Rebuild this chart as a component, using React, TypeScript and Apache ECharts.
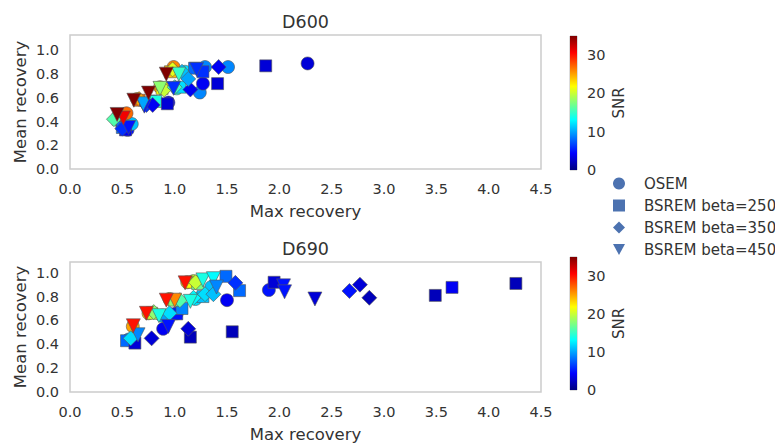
import { useEffect, useRef } from "react";
import * as echarts from "echarts";

// ---- data: [max recovery, mean recovery, SNR] ----
const methodNames = ["OSEM", "BSREM beta=250", "BSREM beta=350", "BSREM beta=450"];
const panelTitles = ["D600", "D690"];
const xTickLabels = ["0.0", "0.5", "1.0", "1.5", "2.0", "2.5", "3.0", "3.5", "4.0", "4.5"];
const snrTicks = [0, 10, 20, 30];
const snrMax = 35;

const osemD600 = [
  [0.5, 0.36, 8], [0.55, 0.33, 5], [0.59, 0.38, 11], [0.54, 0.47, 27],
  [0.64, 0.59, 24], [0.8, 0.57, 7], [0.94, 0.56, 4],
  [0.86, 0.69, 25], [1.02, 0.68, 14], [1.24, 0.645, 9], [1.27, 0.72, 4],
  [0.99, 0.86, 26], [1.1, 0.82, 12], [1.29, 0.86, 9], [1.51, 0.86, 9], [2.27, 0.89, 3],
];
const bsrem250D600 = [
  [0.46, 0.42, 30], [0.5, 0.35, 8], [0.53, 0.33, 4],
  [0.66, 0.58, 27], [0.82, 0.57, 14], [0.93, 0.55, 3],
  [0.88, 0.68, 22], [1.05, 0.69, 12], [1.41, 0.72, 3],
  [0.96, 0.82, 24], [1.19, 0.85, 8], [1.27, 0.82, 6], [1.87, 0.87, 3],
];
const bsrem350D600 = [
  [0.42, 0.42, 16], [0.5, 0.34, 6],
  [0.66, 0.59, 25], [0.73, 0.54, 6], [0.79, 0.54, 4],
  [0.9, 0.67, 20], [1.0, 0.69, 15], [1.15, 0.67, 4],
  [0.98, 0.84, 21], [1.07, 0.82, 11], [1.13, 0.76, 10], [1.42, 0.86, 4],
];
const bsrem450D600 = [
  [0.56, 0.35, 5], [0.51, 0.43, 31], [0.45, 0.46, 35],
  [0.71, 0.53, 5], [0.7, 0.55, 10], [0.61, 0.58, 35],
  [0.99, 0.68, 6], [0.86, 0.68, 18], [0.75, 0.64, 35],
  [1.21, 0.84, 6], [1.04, 0.8, 15], [0.92, 0.8, 35],
];

const osemD690 = [
  [0.56, 0.44, 9], [0.6, 0.55, 25], [0.89, 0.53, 4],
  [0.75, 0.66, 24], [0.88, 0.64, 10], [1.02, 0.66, 6],
  [0.95, 0.78, 22], [1.2, 0.78, 12], [1.5, 0.77, 4],
  [1.12, 0.92, 24], [1.18, 0.93, 20], [1.35, 0.88, 11], [1.9, 0.855, 5],
];
const bsrem250D690 = [
  [0.54, 0.43, 8], [0.62, 0.41, 3], [1.15, 0.46, 2], [1.55, 0.505, 2],
  [0.78, 0.66, 20], [1.02, 0.655, 5], [1.07, 0.7, 9],
  [1.0, 0.77, 18], [1.27, 0.8, 11],
  [1.15, 0.92, 22], [1.22, 0.91, 17], [1.49, 0.97, 8], [1.62, 0.85, 8], [1.95, 0.92, 3],
  [3.49, 0.81, 2], [3.65, 0.877, 4], [4.26, 0.91, 2],
];
const bsrem350D690 = [
  [0.58, 0.45, 12], [0.78, 0.45, 3], [1.13, 0.53, 3],
  [0.8, 0.67, 18], [0.95, 0.66, 12],
  [1.05, 0.77, 16], [1.18, 0.79, 13], [1.29, 0.82, 12], [1.37, 0.82, 11],
  [1.2, 0.92, 20], [1.58, 0.915, 6], [2.67, 0.847, 5], [2.77, 0.9, 3], [2.86, 0.79, 2],
];
const bsrem450D690 = [
  [0.65, 0.48, 9], [0.94, 0.55, 5], [0.605, 0.555, 30],
  [0.85, 0.64, 14], [0.73, 0.66, 30],
  [1.15, 0.76, 14], [1.0, 0.77, 26], [0.92, 0.77, 30],
  [1.27, 0.94, 14], [1.37, 0.95, 13], [1.4, 0.88, 9], [1.1, 0.915, 30],
  [2.04, 0.89, 5], [2.05, 0.84, 5], [2.34, 0.78, 3],
];

const jet = ["#00007f", "#0000ff", "#007fff", "#00ffff", "#7fff7f", "#ffff00", "#ff7f00", "#ff0000", "#7f0000"];

const FONT = "DejaVu Sans";
const TXT = "#333333";

export default function App() {
  const ref = useRef<HTMLDivElement>(null);

  useEffect(() => {
    const chart = echarts.init(ref.current!, null, { renderer: "svg" });

    const panels = [
      { data: [osemD600, bsrem250D600, bsrem350D600, bsrem450D600], grid: { left: 70, top: 35, width: 471, height: 134 }, ymax: 1.13, cb: { left: 570, top: 36, width: 7, height: 134 } },
      { data: [osemD690, bsrem250D690, bsrem350D690, bsrem450D690], grid: { left: 70, top: 262, width: 471, height: 133 }, ymax: 1.09, cb: { left: 570, top: 257, width: 7, height: 133 } },
    ];

    const symbols = ["circle", "rect", "diamond", "path://M0,0L10,0L5,9Z"];
    const sizes = [13, 12, 15, 14];

    const grids: any[] = [];
    const xAxes: any[] = [];
    const yAxes: any[] = [];
    const series: any[] = [];

    panels.forEach((p, pi) => {
      grids.push({ ...p.grid, show: true, borderColor: "#cccccc", borderWidth: 1.5, backgroundColor: "#ffffff" });
      xAxes.push({
        type: "value", gridIndex: pi, min: 0, max: 4.5, interval: 0.5,
        name: "Max recovery", nameLocation: "middle", nameGap: 34,
        nameTextStyle: { fontFamily: FONT, fontSize: 16.5, color: TXT },
        axisLine: { show: false }, axisTick: { show: false }, splitLine: { show: false },
        axisLabel: { fontFamily: FONT, fontSize: 14.5, color: TXT, margin: 12, formatter: (v: number) => xTickLabels[Math.round(v * 2)] ?? v.toFixed(1) },
      });
      yAxes.push({
        type: "value", gridIndex: pi, min: 0, max: p.ymax, interval: 0.2,
        name: "Mean recovery", nameLocation: "middle", nameGap: 41, nameMoveOverlap: false,
        nameTextStyle: { fontFamily: FONT, fontSize: 16.5, color: TXT },
        axisLine: { show: false }, axisTick: { show: false }, splitLine: { show: false },
        axisLabel: { fontFamily: FONT, fontSize: 14.5, color: TXT, margin: 11, showMaxLabel: false, formatter: (v: number) => v.toFixed(1) },
      });
      p.data.forEach((d, mi) => {
        series.push({
          type: "scatter", name: methodNames[mi], xAxisIndex: pi, yAxisIndex: pi,
          data: d, symbol: symbols[mi], symbolSize: sizes[mi],
          itemStyle: { color: "#4c72b0", borderColor: "#555555", borderWidth: 0.6, opacity: 1 },
          emphasis: { disabled: true },
        });
      });
    });

    // colorbars
    panels.forEach((p, pi) => {
      const gi = 2 + pi;
      grids.push({ ...p.cb, show: true, borderColor: "#bbbbbb", borderWidth: 1 });
      xAxes.push({ type: "category", gridIndex: gi, data: ["snr"], show: false });
      yAxes.push({
        type: "value", gridIndex: gi, min: 0, max: snrMax, interval: 10, position: "right",
        name: "SNR", nameLocation: "middle", nameGap: 34, nameRotate: 90,
        nameTextStyle: { fontFamily: FONT, fontSize: 15, color: TXT },
        axisLine: { show: false }, axisTick: { show: false }, splitLine: { show: false },
        axisLabel: { fontFamily: FONT, fontSize: 14.5, color: TXT, margin: 10, showMaxLabel: false,
          formatter: (v: number) => (snrTicks.includes(v) ? String(v) : "") },
      });
      series.push({
        type: "bar", xAxisIndex: gi, yAxisIndex: gi, data: [snrMax], barWidth: "100%",
        itemStyle: {
          color: new echarts.graphic.LinearGradient(0, 1, 0, 0, jet.map((c, i) => ({ offset: i / (jet.length - 1), color: c }))),
        },
        silent: true,
      });
    });

    const option: any = {
      animation: false,
      backgroundColor: "#ffffff",
      textStyle: { fontFamily: FONT },
      grid: grids,
      xAxis: xAxes,
      yAxis: yAxes,
      visualMap: [{
        type: "continuous", show: false, min: 0, max: snrMax, dimension: 2,
        seriesIndex: [0, 1, 2, 3, 4, 5, 6, 7], inRange: { color: jet },
      }],
      legend: {
        orient: "vertical", left: 608, top: 171, itemGap: 7, itemWidth: 12, itemHeight: 12,
        textStyle: { fontFamily: FONT, fontSize: 15, color: TXT, padding: [0, 0, 0, 14] },
        data: methodNames.map((n, i) => ({ name: n, icon: symbols[i], itemStyle: { color: "#4c72b0", borderWidth: 0 } })),
        selectedMode: false,
      },
      graphic: panelTitles.map((t, i) => ({
        type: "text", x: 305.5, y: i === 0 ? 22 : 249,
        style: { text: t, fontFamily: FONT, fontSize: 17.5, fill: TXT, textAlign: "center", textVerticalAlign: "middle" },
      })),
      series,
    };

    chart.setOption(option);
    return () => chart.dispose();
  }, []);

  return <div ref={ref} style={{ position: "fixed", left: 0, top: 0, width: 775, height: 444 }} />;
}
